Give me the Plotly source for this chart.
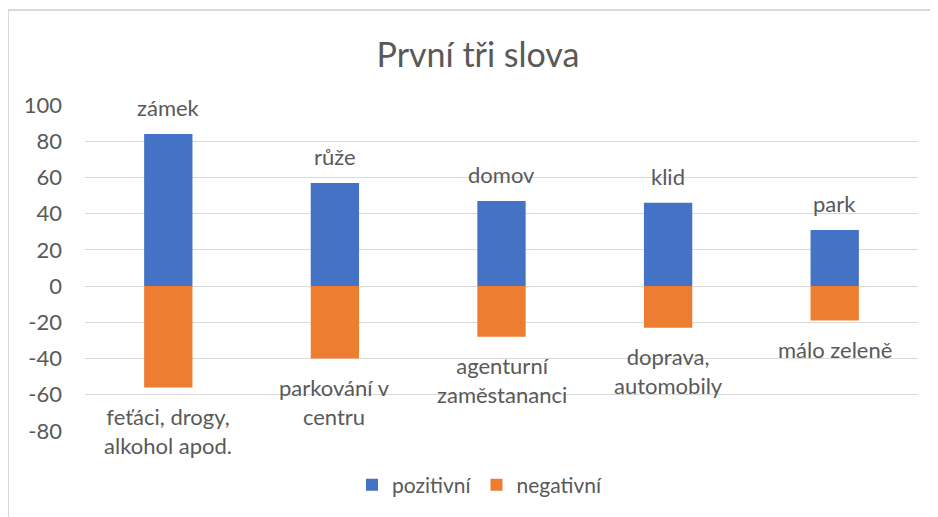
import plotly.graph_objects as go

categories = ["A", "B", "C", "D", "E"]
positive = [84, 57, 47, 46, 31]
negative = [-56, -40, -28, -23, -19]
pos_labels = ["zámek", "růže", "domov", "klid", "park"]
neg_labels = ["feťáci, drogy,<br>alkohol apod.", "parkování v<br>centru",
              "agenturní<br>zaměstananci", "doprava,<br>automobily", "málo zeleně"]
y_ticks = [-80, -60, -40, -20, 0, 20, 40, 60, 80, 100]
y_tick_text = ["-80", "-60", "-40", "-20", "0", "20", "40", "60", "80", "100"]

FONT = "Lato"
GRAY = "#595959"
W, H = 930, 509
L, R, T, B = 77, 20, 97, 86
PW, PH = W - L - R, H - T - B

fig = go.Figure()
fig.add_trace(go.Bar(x=categories, y=positive, name="pozitivní",
                     marker=dict(color="#4472C4", line=dict(width=0)), hoverinfo="skip"))
fig.add_trace(go.Bar(x=categories, y=negative, name="negativní",
                     marker=dict(color="#ED7D31", line=dict(width=0)), hoverinfo="skip"))

annotations = []
for c, v, t in zip(categories, positive, pos_labels):
    annotations.append(dict(x=c, y=v, text=t, showarrow=False, yanchor="middle",
                            yshift=26, font=dict(family=FONT, size=22, color=GRAY)))
for c, v, t in zip(categories, negative, neg_labels):
    annotations.append(dict(x=c, y=v, text=t, showarrow=False, yanchor="top",
                            yshift=-13, font=dict(family=FONT, size=22, color=GRAY)))

fig.update_layout(
    width=W, height=H,
    margin=dict(l=L, r=R, t=T, b=B),
    paper_bgcolor="white", plot_bgcolor="white",
    barmode="relative", bargap=0.71,
    font=dict(family=FONT, color=GRAY),
    title=dict(text="První tři slova", x=470 / W, xref="container", y=1 - 47 / H,
               yref="container", xanchor="center", yanchor="middle",
               font=dict(family=FONT, size=34, color=GRAY)),
    xaxis=dict(type="category", showticklabels=False, showgrid=False, zeroline=False,
               showline=False, ticks=""),
    yaxis=dict(range=[-80, 100], tickvals=y_ticks, ticktext=y_tick_text,
               showgrid=True, gridcolor="#D9D9D9",
               gridwidth=1, zeroline=True, zerolinecolor="#D9D9D9", zerolinewidth=1,
               showline=False, ticks="", ticklabelstandoff=22,
               tickfont=dict(family=FONT, size=22, color=GRAY)),
    legend=dict(orientation="h", x=(472 - L) / PW, xanchor="center",
                y=-(477 - (H - B)) / PH, yanchor="middle",
                font=dict(family=FONT, size=21, color=GRAY), itemwidth=30,
                traceorder="normal"),
    annotations=annotations,
    shapes=[
        dict(type="line", xref="paper", yref="paper", x0=-L / PW, x1=1.1,
             y0=1 + (T - 2) / PH, y1=1 + (T - 2) / PH, line=dict(color="#D9D9D9", width=2)),
        dict(type="line", xref="paper", yref="paper", x0=-L / PW, x1=-L / PW,
             y0=1 + (T - 2) / PH, y1=-0.5, line=dict(color="#D9D9D9", width=2)),
    ],
)

fig.write_html("out.html")
